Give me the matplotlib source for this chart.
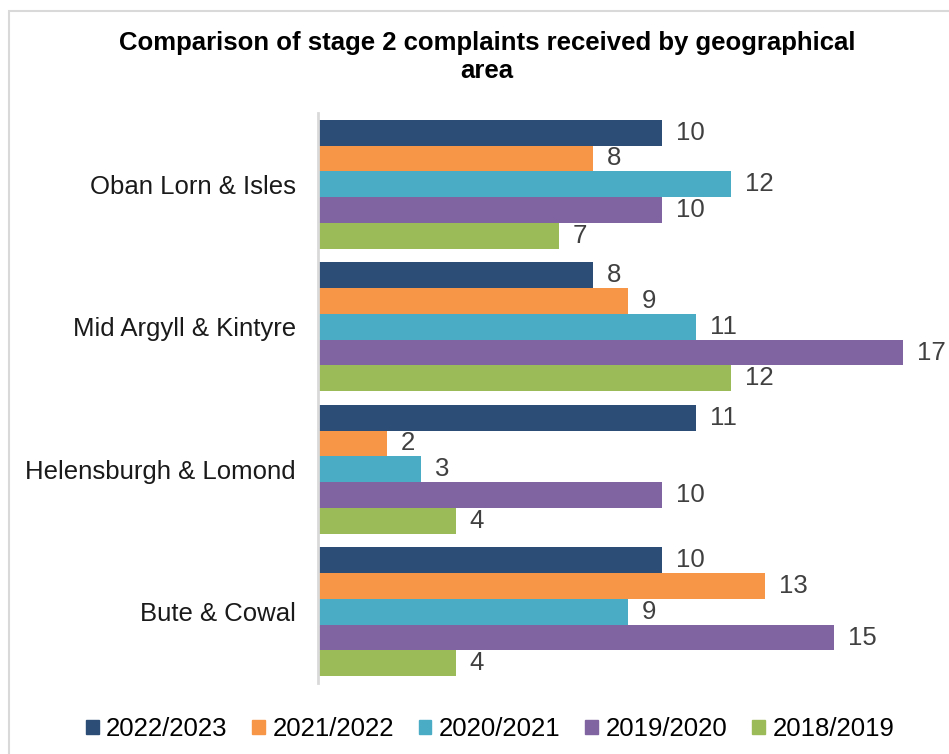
import numpy as np
import matplotlib.pyplot as plt
from matplotlib.patches import Patch, Rectangle

plt.rcParams['font.family'] = ['Liberation Sans', 'DejaVu Sans']

areas = ["Oban Lorn & Isles", "Mid Argyll & Kintyre", "Helensburgh & Lomond", "Bute & Cowal"]
years = ["2022/2023", "2021/2022", "2020/2021", "2019/2020", "2018/2019"]
colours = ["#2C4D75", "#F79646", "#4BACC6", "#8064A2", "#9BBB59"]

y2022_23 = [10, 8, 11, 10]
y2021_22 = [8, 9, 2, 13]
y2020_21 = [12, 11, 3, 9]
y2019_20 = [10, 17, 10, 15]
y2018_19 = [7, 12, 4, 4]
series = [y2022_23, y2021_22, y2020_21, y2019_20, y2018_19]

fig = plt.figure(figsize=(9.49, 7.54), dpi=100)
ax = fig.add_axes([318 / 949, 1 - 683 / 754, 1 - 318 / 949, 570 / 754])

# outer chart border
fig.patches.append(Rectangle((9 / 949, -0.1), 1.2, 1 - 11 / 754 + 0.1,
                             transform=fig.transFigure, fill=False,
                             edgecolor="#d9d9d9", linewidth=1.5))

bh = 0.181
pos = np.arange(len(areas))
for k, (vals, col, yr) in enumerate(zip(series, colours, years)):
    yy = pos + (k - 2) * bh
    ax.barh(yy, vals, height=bh, color=col, label=yr, linewidth=0)
    for y, v in zip(yy, vals):
        ax.annotate(str(v), (v, y), xytext=(10, 0), textcoords="offset points",
                    va="center", ha="left", fontsize=18.5, color="#404040")

ax.set_xlim(0, 18.34)
ax.set_ylim(len(areas) - 0.5, -0.5)
ax.set_yticks(pos)
ax.set_yticklabels(areas, fontsize=18.5, color="#1a1a1a")
ax.set_xticks([])
ax.tick_params(axis="y", length=0, pad=16)
for s in ["top", "right", "bottom"]:
    ax.spines[s].set_visible(False)
ax.spines["left"].set_color("#d9d9d9")
ax.spines["left"].set_linewidth(2)

fig.text(487 / 949, 1 - 57 / 754,
         "Comparison of stage 2 complaints received by geographical\narea",
         ha="center", va="center", fontsize=18.5, fontweight="bold", linespacing=1.22)

handles = [Patch(color=c, label=y) for c, y in zip(colours, years)]
fig.legend(handles=handles, loc="center", ncol=5, frameon=False,
           bbox_to_anchor=(490 / 949, 1 - 729 / 754), fontsize=18.5,
           handlelength=0.5, handleheight=0.5, handletextpad=0.3,
           columnspacing=0.95)

fig.savefig("out.png", dpi=100)
